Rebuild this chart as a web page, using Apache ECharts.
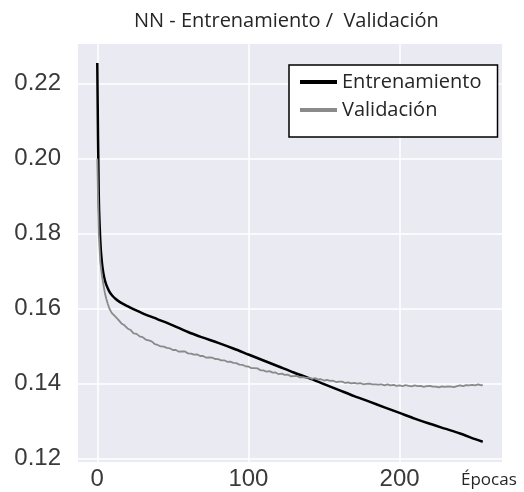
<!DOCTYPE html>
<html>
<head>
<meta charset="utf-8">
<script src="https://cdn.jsdelivr.net/npm/echarts@6/dist/echarts.min.js"></script>
<style>html,body{margin:0;padding:0;background:#fff}#c{width:524px;height:492px}</style>
</head>
<body>
<div id="c"></div>
<script>
var xTicks = [0, 100, 200];
var yTicks = [0.12, 0.14, 0.16, 0.18, 0.20, 0.22];

var trainEpochs = [0,1,2,3,4,5,6,8,10,12,15,20,25,30,40,50,60,70,80,90,100,110,120,130,140,150,160,170,180,190,200,210,220,230,240,250,255];
var trainLoss = [0.2255,0.1900,0.1780,0.1725,0.1695,0.1676,0.1663,0.1645,0.1634,0.1626,0.1617,0.1606,0.1596,0.1587,0.1571,0.1555,0.1537,0.1522,0.1508,0.1493,0.1477,0.1461,0.1445,0.1429,0.1414,0.1398,0.1382,0.1366,0.1351,0.1336,0.1321,0.1306,0.1292,0.1279,0.1266,0.1251,0.1244];

var valEpochs = [0,1,2,3,4,5,6,7,8,9,10,
12,14,16,18,20,22,24,26,28,30,32,34,36,38,40,42,44,46,48,50,52,54,56,58,60,62,64,66,68,70,72,74,76,78,80,82,84,86,88,90,92,94,96,98,100,
102,104,106,108,110,112,114,116,118,120,122,124,126,128,130,132,134,136,138,140,142,144,146,148,150,152,154,156,158,160,162,164,166,168,170,172,174,176,178,180,
182,184,186,188,190,192,194,196,198,200,202,204,206,208,210,212,214,216,218,220,222,224,226,228,230,232,234,236,238,240,242,244,246,248,250,252,254,255];
var valLoss = [0.2000,0.1800,0.1725,0.1690,0.1665,0.1642,0.1625,0.1612,0.1600,0.1592,0.1586,
0.15780,0.15695,0.15600,0.15550,0.15465,0.15425,0.15335,0.15320,0.15255,0.15235,0.15170,0.15145,0.15120,0.15050,0.15025,0.14985,0.14980,0.14945,0.14935,0.14890,0.14890,0.14845,0.14855,0.14850,0.14800,0.14795,0.14765,0.14775,0.14730,0.14730,0.14685,0.14695,0.14685,0.14650,0.14645,0.14615,0.14615,0.14575,0.14580,0.14545,0.14540,0.14500,0.14495,0.14455,0.14450,
0.14405,0.14405,0.14400,0.14350,0.14345,0.14310,0.14325,0.14285,0.14290,0.14245,0.14260,0.14225,0.14235,0.14190,0.14195,0.14200,0.14160,0.14165,0.14145,0.14155,0.14120,0.14140,0.14105,0.14110,0.14075,0.14090,0.14065,0.14070,0.14035,0.14045,0.14045,0.14010,0.14025,0.14000,0.14010,0.13995,0.14005,0.13975,0.13985,0.13990,
0.13970,0.13975,0.13965,0.13975,0.13945,0.13970,0.13945,0.13960,0.13930,0.13945,0.13925,0.13950,0.13935,0.13920,0.13945,0.13925,0.13930,0.13905,0.13925,0.13935,0.13910,0.13915,0.13890,0.13920,0.13905,0.13920,0.13910,0.13900,0.13925,0.13945,0.13925,0.13950,0.13945,0.13960,0.13945,0.13970,0.13945,0.13960];

function pairs(xs, ys) { return xs.map(function (x, i) { return [x, ys[i]]; }); }

var chart = echarts.init(document.getElementById('c'), null, { renderer: 'canvas' });
chart.setOption({
  backgroundColor: '#ffffff',
  animation: false,
  title: {
    text: 'NN - Entrenamiento /  Validación',
    left: 129, top: 6,
    textStyle: { fontFamily: 'Open Sans', fontSize: 20, fontWeight: 'normal', color: '#262626' }
  },
  legend: {
    left: 289, top: 65,
    orient: 'vertical',
    backgroundColor: '#ffffff',
    borderColor: '#000000', borderWidth: 1.5, borderRadius: 0,
    padding: [6, 16, 16, 11],
    itemWidth: 37, itemHeight: 4, itemGap: 6,
    icon: 'rect',
    textStyle: { fontFamily: 'Open Sans', fontSize: 20, lineHeight: 22, color: '#262626' },
    data: ['Entrenamiento', 'Validación']
  },
  grid: { left: 78, right: 22, top: 44, bottom: 30, show: true, backgroundColor: '#EAEAF2', borderWidth: 0 },
  xAxis: {
    type: 'value', min: -12.75, max: 267.75,
    axisLine: { show: false }, axisTick: { show: false, customValues: xTicks },
    axisLabel: { customValues: xTicks, fontFamily: 'Liberation Sans', fontSize: 24, color: '#3a3a3a', margin: 5 },
    splitLine: { show: true, lineStyle: { color: '#ffffff', width: 1.5 } },
    name: 'Épocas', nameLocation: 'end', nameGap: -41,
    nameTextStyle: { fontFamily: 'Open Sans', fontSize: 17, color: '#262626', align: 'left', verticalAlign: 'top', padding: [10, 0, 0, 0] }
  },
  yAxis: {
    type: 'value', min: 0.119, max: 0.2306,
    axisLine: { show: false }, axisTick: { show: false, customValues: yTicks },
    axisLabel: { customValues: yTicks, fontFamily: 'Liberation Sans', fontSize: 24, color: '#3a3a3a', margin: 17,
      formatter: function (v) { return v.toFixed(2); } },
    splitLine: { show: true, lineStyle: { color: '#ffffff', width: 1.5 } }
  },
  series: [
    { name: 'Entrenamiento', type: 'line', data: pairs(trainEpochs, trainLoss), showSymbol: false, smooth: 0.3,
      lineStyle: { color: '#000000', width: 2.5 }, itemStyle: { color: '#000000' } },
    { name: 'Validación', type: 'line', data: pairs(valEpochs, valLoss), showSymbol: false,
      lineStyle: { color: '#8a8a8a', width: 1.8 }, itemStyle: { color: '#8a8a8a' } }
  ]
});
</script>
</body>
</html>
